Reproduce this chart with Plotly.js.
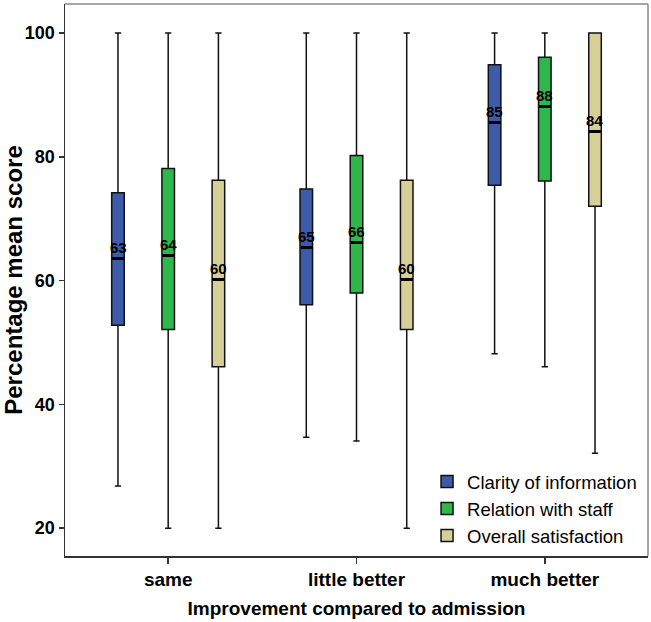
<!DOCTYPE html>
<html>
<head>
<meta charset="utf-8">
<script src="https://cdn.plot.ly/plotly-3.0.1.min.js"></script>
<style>html,body{margin:0;padding:0;background:#fff;}#chart{width:651px;height:622px;}</style>
</head>
<body>
<div id="chart"></div>
<script>
// Categories
const categories = ["same", "little better", "much better"];
const seriesNames = ["Clarity of information", "Relation with staff", "Overall satisfaction"];

// Box statistics per series (one value per category)
const clarityLower  = [26.8, 34.7, 48.2];
const clarityQ1     = [52.8, 56.1, 75.4];
const clarityMedian = [63.5, 65.4, 85.5];
const clarityQ3     = [74.2, 74.8, 94.9];
const clarityUpper  = [100, 100, 100];
const clarityLabels = ["63", "65", "85"];

const relationLower  = [20, 34.1, 46.1];
const relationQ1     = [52.1, 58.0, 76.1];
const relationMedian = [64.1, 66.2, 88.1];
const relationQ3     = [78.1, 80.2, 96.1];
const relationUpper  = [100, 100, 100];
const relationLabels = ["64", "66", "88"];

const overallLower  = [20, 20, 32.1];
const overallQ1     = [46.1, 52.1, 72.0];
const overallMedian = [60.2, 60.2, 84.1];
const overallQ3     = [76.2, 76.2, 100];
const overallUpper  = [100, 100, 100];
const overallLabels = ["60", "60", "84"];

const yTicks = [20, 40, 60, 80, 100];

const colors = ["#3E5BA9", "#2EB84C", "#D6CF98"];
const groupOffsets = [-50, 0, 50];

const stats = [
  {lower: clarityLower, q1: clarityQ1, med: clarityMedian, q3: clarityQ3, upper: clarityUpper, labels: clarityLabels},
  {lower: relationLower, q1: relationQ1, med: relationMedian, q3: relationQ3, upper: relationUpper, labels: relationLabels},
  {lower: overallLower, q1: overallQ1, med: overallMedian, q3: overallQ3, upper: overallUpper, labels: overallLabels}
];

const font = "Arial, 'Liberation Sans', sans-serif";

const traces = stats.map((s, i) => ({
  type: "box",
  name: seriesNames[i],
  x: categories,
  q1: s.q1,
  median: s.med,
  q3: s.q3,
  lowerfence: s.lower,
  upperfence: s.upper,
  boxpoints: false,
  fillcolor: colors[i],
  line: {color: "#111", width: 1.5},
  whiskerwidth: 0.5,
  hoverinfo: "skip"
}));

const annotations = [];
stats.forEach((s, i) => {
  categories.forEach((c, j) => {
    // thick median bar
    annotations.push({
      x: c, y: s.med[j], xref: "x", yref: "y",
      text: " ", showarrow: false,
      xshift: groupOffsets[i],
      width: 12, height: 3, borderpad: 0, borderwidth: 0,
      bgcolor: "#000",
      font: {size: 1}
    });
    // median value label
    annotations.push({
      x: c, y: s.med[j], xref: "x", yref: "y",
      text: s.labels[j], showarrow: false,
      xshift: groupOffsets[i], yshift: 11,
      font: {family: font, size: 15, color: "#000", weight: "bold"}
    });
  });
});

const layout = {
  width: 651, height: 622,
  margin: {l: 65, r: 3, t: 4, b: 66},
  paper_bgcolor: "#fff", plot_bgcolor: "#fff",
  boxmode: "group",
  boxgap: 0.2,
  boxgroupgap: 0.75,
  showlegend: true,
  legend: {
    x: 0.621, xanchor: "left", y: 0.002, yanchor: "bottom",
    bgcolor: "rgba(0,0,0,0)", borderwidth: 0,
    font: {family: font, size: 18.5, color: "#000"},
    itemclick: false, itemdoubleclick: false,
    tracegroupgap: 0
  },
  xaxis: {
    type: "category",
    range: [-0.548, 2.548],
    showline: true, linecolor: "#333", linewidth: 1.5,
    ticks: "outside", ticklen: 6, tickcolor: "#333", tickwidth: 1.5,
    tickfont: {family: font, size: 19, color: "#000", weight: "bold"},
    title: {text: "Improvement compared to admission", font: {family: font, size: 19, color: "#000", weight: "bold"}, standoff: 12},
    showgrid: false, zeroline: false, fixedrange: true
  },
  yaxis: {
    range: [15.5, 104.7],
    tickvals: yTicks,
    ticktext: yTicks.map(String),
    showline: true, linecolor: "#333", linewidth: 1.5,
    ticks: "outside", ticklen: 5, tickcolor: "#333", tickwidth: 1.5,
    tickfont: {family: font, size: 18, color: "#000", weight: "bold"},
    title: {text: "Percentage mean score", font: {family: font, size: 24, color: "#000", weight: "bold"}, standoff: 6},
    showgrid: false, zeroline: false, fixedrange: true
  },
  shapes: [
    {type: "line", xref: "paper", yref: "paper", x0: 0, x1: 1, y0: 1, y1: 1, line: {color: "#888", width: 1.5}},
    {type: "line", xref: "paper", yref: "paper", x0: 1, x1: 1, y0: 0, y1: 1, line: {color: "#888", width: 1.5}}
  ],
  annotations: annotations
};

Plotly.newPlot("chart", traces, layout, {displayModeBar: false, staticPlot: true});
</script>
</body>
</html>
